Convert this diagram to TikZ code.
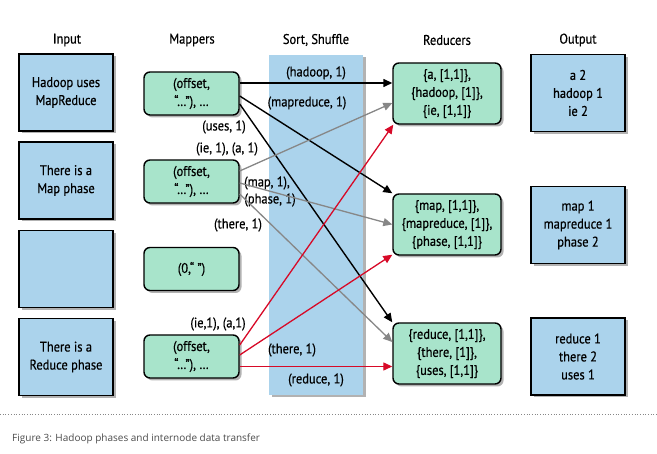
\documentclass[tikz,border=0pt]{standalone}
\usepackage{fontspec}
\setmainfont{PT Sans}[FakeStretch=0.89,FakeBold=0.5]
\newfontfamily\capfont{Open Sans}
\usetikzlibrary{arrows.meta,shadows}
\definecolor{boxblue}{RGB}{171,211,236}
\definecolor{boxgreen}{RGB}{168,228,203}
\definecolor{arrred}{RGB}{215,10,40}
\definecolor{arrgray}{RGB}{135,135,135}
\definecolor{capgray}{RGB}{75,75,75}
\begin{document}
\begin{tikzpicture}[x=1pt,y=-1pt,
  boxshadow/.style={drop shadow={shadow xshift=2.5pt,shadow yshift=-2.5pt,opacity=0.3,fill=black}},
  txt/.style={font=\fontsize{14}{18}\selectfont,align=center,inner sep=0pt},
  inbox/.style={txt,draw=black,line width=1.4pt,fill=boxblue,minimum width=94pt,minimum height=77pt,boxshadow},
  mapbox/.style={txt,draw=black,line width=1.4pt,fill=boxgreen,rounded corners=6pt,minimum width=95pt,minimum height=43pt,boxshadow},
  redbox/.style={txt,draw=black,line width=1.4pt,fill=boxgreen,rounded corners=6pt,minimum width=108pt,minimum height=61pt,boxshadow},
  sortbox/.style={fill=boxblue,minimum width=94pt,minimum height=340pt,inner sep=0pt,boxshadow},
  header/.style={txt},
  lab/.style={txt},
  tip/.style={-{Triangle[length=9pt,width=8pt]}},
  blackarr/.style={tip,line width=1.4pt,draw=black},
  grayarr/.style={tip,line width=1.3pt,draw=arrgray,fill=arrgray},
  redarr/.style={tip,line width=1.3pt,draw=arrred,fill=arrred}
]
\useasboundingbox (0,0) rectangle (657,454);

% Sort/shuffle band
\node[sortbox] (S) at (316,225) {};

% headers
\node[header] (hIn) at (67,40) {Input};
\node[header] (hMap) at (192,40) {Mappers};
\node[header] (hSort) at (316,40) {Sort, Shuffle};
\node[header] (hRed) at (447,40) {Reducers};
\node[header] (hOut) at (578,40) {Output};

% input boxes
\node[inbox] (I1) at (66,92.5) {Hadoop uses\\MapReduce};
\node[inbox] (I2) at (66,180.5) {There is a\\Map phase};
\node[inbox] (I3) at (66,269) {};
\node[inbox] (I4) at (66,357) {There is a\\Reduce phase};

% mappers
\node[mapbox] (M1) at (191.5,93.5) {(offset,\\“…”), …};
\node[mapbox] (M2) at (191.5,181.5) {(offset,\\“…”), …};
\node[mapbox] (M3) at (191.5,269) {(0,“ ”)};
\node[mapbox] (M4) at (191.5,356.5) {(offset,\\“…”), …};

% reducers
\node[redbox] (R1) at (447,93.5) {\{a, [1,1]\},\\\{hadoop, [1]\},\\\{ie, [1,1]\}};
\node[redbox] (R2) at (447,224.5) {\{map, [1,1]\},\\\{mapreduce, [1]\},\\\{phase, [1,1]\}};
\node[redbox] (R3) at (447,353.5) {\{reduce, [1,1]\},\\\{there, [1]\},\\\{uses, [1,1]\}};

% outputs
\node[inbox] (O1) at (578,93) {a 2\\hadoop 1\\ie 2};
\node[inbox] (O2) at (578,225) {map 1\\mapreduce 1\\phase 2};
\node[inbox] (O3) at (578,356.5) {reduce 1\\there 2\\uses 1};

% labels
\node[lab] (l1) at (316,73) {(hadoop, 1)};
\node[lab] (l2) at (307,103) {(mapreduce, 1)};
\node[lab] (l3) at (224,127) {(uses, 1)};
\node[lab] (l4) at (227,149) {(ie, 1), (a, 1)};
\node[lab] (l5) at (267,183) {(map, 1),};
\node[lab] (l6) at (270,200) {(phase, 1)};
\node[lab] (l7) at (238,225) {(there, 1)};
\node[lab] (l8) at (218,324) {(ie,1), (a,1)};
\node[lab] (l9) at (292,350) {(there, 1)};
\node[lab] (l10) at (316,380) {(reduce, 1)};

% mapper 1
\draw[blackarr] ([yshift=10.5pt]M1.east) -- ([yshift=10.5pt]M1.east -| R1.west);
\draw[blackarr] ([yshift=-2.5pt]M1.east) -- (R2.north west);
\draw[blackarr] ([yshift=-10.5pt]M1.east) -- (R3.north west);
% mapper 2
\draw[grayarr] ([yshift=10.5pt]M2.east) -- ([yshift=-9.5pt]R1.west);
\draw[grayarr] ([yshift=-1.5pt]M2.east) -- (R2.west);
\draw[grayarr] ([yshift=-12.5pt]M2.east) -- ([yshift=11.5pt]R3.west);
% mapper 4
\draw[redarr] ([yshift=11.5pt]M4.east) -- ([xshift=1pt]R1.south west);
\draw[redarr] ([yshift=1.5pt]M4.east) -- ([yshift=1pt]R2.south west);
\draw[redarr] ([yshift=-10pt]M4.east) -- ([yshift=-10pt]M4.east -| R3.west);

% separator and caption
\coordinate (sepL) at (0,414);
\coordinate (sepR) at (657,414);
\draw[dotted,line width=0.7pt,draw=arrgray] (sepL) -- (sepR);
\node[anchor=west,inner sep=0pt,font=\capfont\fontsize{10}{12}\selectfont,text=capgray] (cap) at (12,439) {Figure 3: Hadoop phases and internode data transfer};
\end{tikzpicture}
\end{document}
